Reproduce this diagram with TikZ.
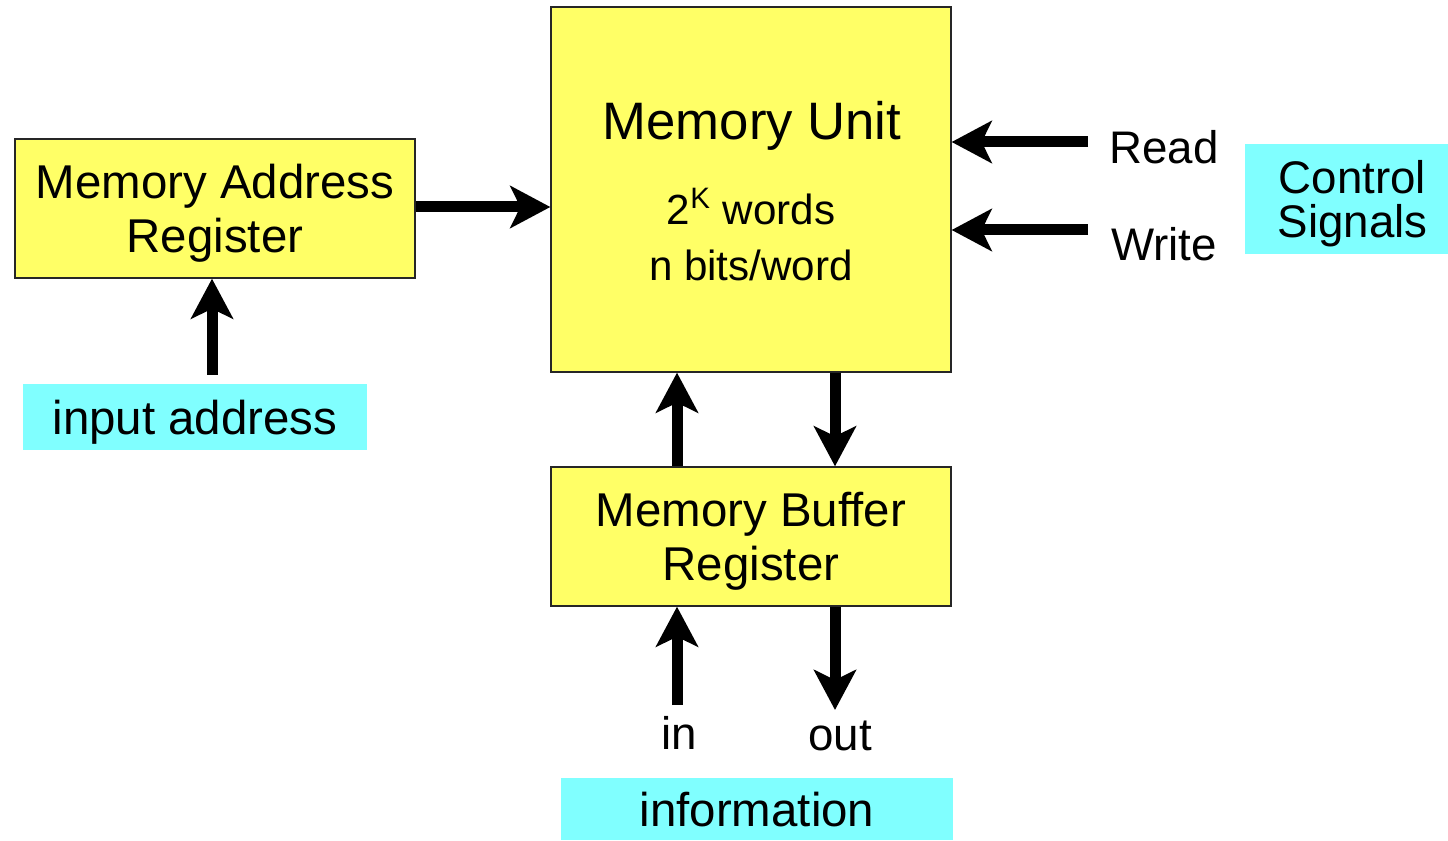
\documentclass[tikz,border=0pt]{standalone}
\usepackage{fontspec}
\setmainfont{Liberation Sans}
\usepackage{xcolor}
\usepackage{tikz}
\usetikzlibrary{arrows.meta,positioning,calc}

\definecolor{regyellow}{HTML}{FFFF66}
\definecolor{labcyan}{HTML}{80FFFF}

\begin{document}
\begin{tikzpicture}[x=0.02cm, y=-0.02cm,
            reg/.style={draw=black!85, line width=0.8pt, fill=regyellow, rectangle,
                 minimum width=8cm, minimum height=2.78cm, align=center, text depth=0pt,
                 font=\fontsize{27}{31}\selectfont},
            tag/.style={fill=labcyan, rectangle, inner sep=0pt, align=center, text depth=0pt,
                 font=\fontsize{27}{31}\selectfont},
            lab/.style={inner sep=0pt, align=center, font=\fontsize{26}{30}\selectfont},
            arr/.style={line width=0.22cm, -{Stealth[length=0.8cm, width=0.84cm, inset=0.2cm]}}
            ]
            \useasboundingbox (0,0) rectangle (1448,841);

            % Nodes with manual coordinates
            \node[reg, minimum height=7.3cm] (mu) at (751,189.5) {};
            \node[lab, font=\fontsize{30}{34}\selectfont] (mutitle) at (752,126) {Memory Unit};
            \node[lab, font=\fontsize{24}{32}\selectfont] (mutext) at (751,235) {2\textsuperscript{K} words\\n bits/word};
            \node[reg] (mar) at (215,208.5) {Memory Address\\Register};
            \node[reg] (mbr) at (751,536.5) {Memory Buffer\\Register};
            \node[tag, minimum width=6.88cm, minimum height=1.32cm] (inaddr) at (195,417) {input address};
            \node[tag, minimum width=4.06cm, minimum height=2.2cm, font=\fontsize{26}{25.5}\selectfont] (ctrl) at (1346.5,199) {\hspace*{0.24cm}Control\\\hspace*{0.24cm}Signals};
            \node[tag, minimum width=7.84cm, minimum height=1.24cm] (info) at (757,809) {information};
            \node[lab] (rd) at (1164,147) {Read};
            \node[lab] (wr) at (1164,244) {Write};
            \node[lab] (in) at (679,733) {in};
            \node[lab] (out) at (840,736) {out};

            % Free ends
            \coordinate (rdend) at (1088,142);
            \coordinate (wrend) at (1088,230);
            \coordinate (iaend) at (212,375);
            \coordinate (inend) at (677,705);
            \coordinate (outend) at (835,710);

            % Arrows
            \draw[arr] (mar.east |- 0,207) -- (mu.west |- 0,207);
            \draw[arr] (rdend) -- (rdend -| mu.east);
            \draw[arr] (wrend) -- (wrend -| mu.east);
            \draw[arr] (iaend) -- (iaend |- mar.south);
            \draw[arr] (mbr.north -| inend) -- (mu.south -| inend);
            \draw[arr] (mu.south -| outend) -- (mbr.north -| outend);
            \draw[arr] (inend) -- (inend |- mbr.south);
            \draw[arr] (mbr.south -| outend) -- (outend);
        \end{tikzpicture}
\end{document}
